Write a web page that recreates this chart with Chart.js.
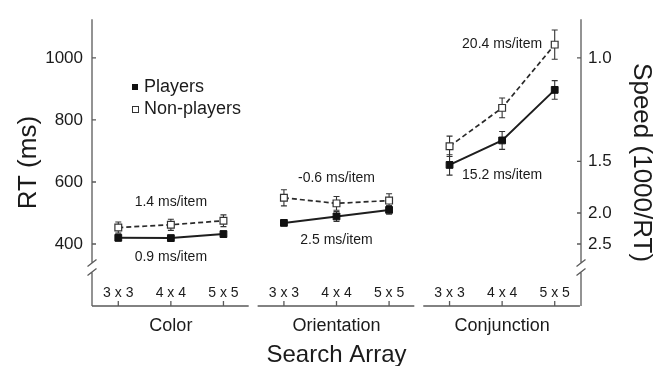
<!DOCTYPE html>
<html>
<head>
<meta charset="utf-8">
<script src="https://cdn.jsdelivr.net/npm/chart.js@4.4.0/dist/chart.umd.min.js"></script>
<style>
  body { margin: 0; background: #fff; }
  #wrap { width: 666px; height: 366px; }
</style>
</head>
<body>
<div id="wrap"><canvas id="rtChart"></canvas></div>
<script>
// search array sizes and search types
var arraySizes = ['3 x 3', '4 x 4', '5 x 5'];
var searchTypes = ['Color', 'Orientation', 'Conjunction'];

// mean RT (ms) and error, 3 sizes per search type, in order of searchTypes
var playersRT = [420, 419, 432, 468, 489, 510, 655, 734, 897];
var playersErr = [10, 9, 10, 6, 16, 14, 33, 29, 30];
var nonPlayersRT = [453, 462, 475, 549, 531, 540, 715, 839, 1043];
var nonPlayersErr = [18, 18, 19, 26, 22, 22, 33, 32, 47];

// search slopes
var playersSlope = ['0.9 ms/item', '2.5 ms/item', '15.2 ms/item'];
var nonPlayersSlope = ['1.4 ms/item', '-0.6 ms/item', '20.4 ms/item'];

// axis ticks
var rtTicks = [400, 600, 800, 1000];
var speedTicks = [1.0, 1.5, 2.0, 2.5];

var FONT = 'Liberation Sans, Arial, Helvetica, sans-serif';
var groupStep = 3.15;   // distance between search type groups on the x scale
var TEXT = '#1b1b1b';
var AXIS = '#5a5a5a';

// where the slope labels sit (RT units)
var playersSlopeY = [356, 411, 623];
var nonPlayersSlopeY = [534, 613, 1043];

function groupData(values, g) {
    return arraySizes.map(function (s, i) {
        return { x: g * groupStep + i, y: values[g * arraySizes.length + i] };
    });
}

function groupErr(errs, g) {
    return errs.slice(g * arraySizes.length, (g + 1) * arraySizes.length);
}

var datasets = [];
for (var g = 0; g < searchTypes.length; g++) {
    datasets.push({
        label: 'Players',
        data: groupData(playersRT, g),
        errors: groupErr(playersErr, g),
        borderColor: '#1e1e1e',
        borderWidth: 2,
        pointStyle: 'rect',
        pointRadius: 4.8,
        pointBackgroundColor: '#111',
        pointBorderColor: '#111',
        pointBorderWidth: 1
    });
    datasets.push({
        label: 'Non-players',
        data: groupData(nonPlayersRT, g),
        errors: groupErr(nonPlayersErr, g),
        borderColor: '#2a2a2a',
        borderWidth: 1.7,
        borderDash: [5, 3],
        pointStyle: 'rect',
        pointRadius: 4.8,
        pointBackgroundColor: '#fff',
        pointBorderColor: '#333',
        pointBorderWidth: 1.2
    });
}

function slash(ctx, x, y) {
    ctx.moveTo(x - 4.5, y + 3.5);
    ctx.lineTo(x + 4.5, y - 3.5);
}

// axes with breaks, error bars
var underPlugin = {
    id: 'under',
    beforeDatasetsDraw: function (chart) {
        var ctx = chart.ctx;
        var a = chart.chartArea;
        var xs = chart.scales.x;
        var ys = chart.scales.y;
        ctx.save();
        ctx.strokeStyle = AXIS;
        ctx.lineWidth = 1.3;
        ctx.beginPath();
        [a.left, a.right].forEach(function (x) {
            ctx.moveTo(x, a.top);
            ctx.lineTo(x, 263);
            ctx.moveTo(x, 272);
            ctx.lineTo(x, a.bottom);
            slash(ctx, x, 263);
            slash(ctx, x, 272);
        });
        // x axis, one piece per search type
        for (var g = 0; g < searchTypes.length; g++) {
            var x0 = Math.max(a.left, xs.getPixelForValue(g * groupStep - 0.5));
            var x1 = Math.min(a.right, xs.getPixelForValue(g * groupStep + 2.48));
            ctx.moveTo(x0, a.bottom);
            ctx.lineTo(x1, a.bottom);
            for (var i = 0; i < arraySizes.length; i++) {
                var tx = xs.getPixelForValue(g * groupStep + i);
                ctx.moveTo(tx, a.bottom);
                ctx.lineTo(tx, a.bottom - 5);
            }
        }
        rtTicks.forEach(function (v) {
            var y = ys.getPixelForValue(v);
            ctx.moveTo(a.left, y);
            ctx.lineTo(a.left + 4, y);
        });
        speedTicks.forEach(function (s) {
            var y = ys.getPixelForValue(1000 / s);
            ctx.moveTo(a.right, y);
            ctx.lineTo(a.right - 4, y);
        });
        ctx.stroke();

        // error bars
        ctx.strokeStyle = '#333';
        ctx.lineWidth = 1.1;
        ctx.beginPath();
        chart.data.datasets.forEach(function (ds, k) {
            var meta = chart.getDatasetMeta(k);
            meta.data.forEach(function (pt, j) {
                var v = ds.data[j].y;
                var e = ds.errors[j];
                var yTop = ys.getPixelForValue(v + e);
                var yBot = ys.getPixelForValue(v - e);
                ctx.moveTo(pt.x, yTop);
                ctx.lineTo(pt.x, yBot);
                ctx.moveTo(pt.x - 3, yTop);
                ctx.lineTo(pt.x + 3, yTop);
                ctx.moveTo(pt.x - 3, yBot);
                ctx.lineTo(pt.x + 3, yBot);
            });
        });
        ctx.stroke();
        ctx.restore();
    }
};

// category labels, legend, slopes
var textPlugin = {
    id: 'texts',
    afterDraw: function (chart) {
        var ctx = chart.ctx;
        var a = chart.chartArea;
        var xs = chart.scales.x;
        var ys = chart.scales.y;
        ctx.save();
        ctx.fillStyle = TEXT;
        ctx.textAlign = 'center';
        ctx.textBaseline = 'middle';
        for (var g = 0; g < searchTypes.length; g++) {
            ctx.font = '14px ' + FONT;
            for (var i = 0; i < arraySizes.length; i++) {
                ctx.fillText(arraySizes[i], xs.getPixelForValue(g * groupStep + i), 293);
            }
            ctx.font = '18px ' + FONT;
            ctx.fillText(searchTypes[g], xs.getPixelForValue(g * groupStep + 1), 326);

            ctx.font = '14px ' + FONT;
            var cx = xs.getPixelForValue(g * groupStep + 1);
            ctx.fillText(playersSlope[g], cx, ys.getPixelForValue(playersSlopeY[g]));
            ctx.fillText(nonPlayersSlope[g], cx, ys.getPixelForValue(nonPlayersSlopeY[g]));
        }
        ctx.font = '24px ' + FONT;
        ctx.fillText('Search Array', (a.left + a.right) / 2, 355);

        // legend
        ctx.textAlign = 'left';
        ctx.font = '18px ' + FONT;
        ctx.fillStyle = '#111';
        ctx.fillRect(132, 84, 6, 6);
        ctx.strokeStyle = '#333';
        ctx.lineWidth = 1;
        ctx.strokeRect(132.5, 106.5, 6, 6);
        ctx.fillStyle = TEXT;
        ctx.fillText('Players', 144, 87);
        ctx.fillText('Non-players', 144, 109);
        ctx.restore();
    }
};

var ctx = document.getElementById('rtChart');

var chart = new Chart(ctx, {
    type: 'line',
    data: { datasets: datasets },
    plugins: [underPlugin, textPlugin],
    options: {
        responsive: true,
        maintainAspectRatio: false,
        animation: false,
        layout: {
            padding: { top: 13, bottom: 60, left: 13, right: 9 }
        },
        plugins: {
            legend: { display: false },
            tooltip: { enabled: false }
        },
        scales: {
            x: {
                type: 'linear',
                display: false,
                min: -0.5,
                max: 2 * groupStep + 2.5
            },
            y: {
                position: 'left',
                min: 200,
                max: 1125,
                grid: { display: false, drawTicks: false },
                border: { display: false },
                afterBuildTicks: function (scale) {
                    scale.ticks = rtTicks.map(function (v) { return { value: v }; });
                },
                afterFit: function (scale) { scale.width = 79; },
                ticks: {
                    color: TEXT,
                    padding: 9,
                    font: { family: FONT, size: 17 },
                    callback: function (v) { return String(v); }
                },
                title: {
                    display: true,
                    text: 'RT (ms)',
                    color: TEXT,
                    padding: 0,
                    font: { family: FONT, size: 26 }
                }
            },
            y2: {
                position: 'right',
                min: 200,
                max: 1125,
                grid: { display: false, drawTicks: false },
                border: { display: false },
                afterBuildTicks: function (scale) {
                    scale.ticks = speedTicks.map(function (s) { return { value: 1000 / s }; });
                },
                afterFit: function (scale) { scale.width = 76; },
                ticks: {
                    color: TEXT,
                    padding: 7,
                    font: { family: FONT, size: 17 },
                    callback: function (v) { return (1000 / v).toFixed(1); }
                },
                title: {
                    display: true,
                    text: 'Speed (1000/RT)',
                    color: TEXT,
                    padding: 0,
                    font: { family: FONT, size: 26 }
                }
            }
        }
    }
});
</script>
</body>
</html>
